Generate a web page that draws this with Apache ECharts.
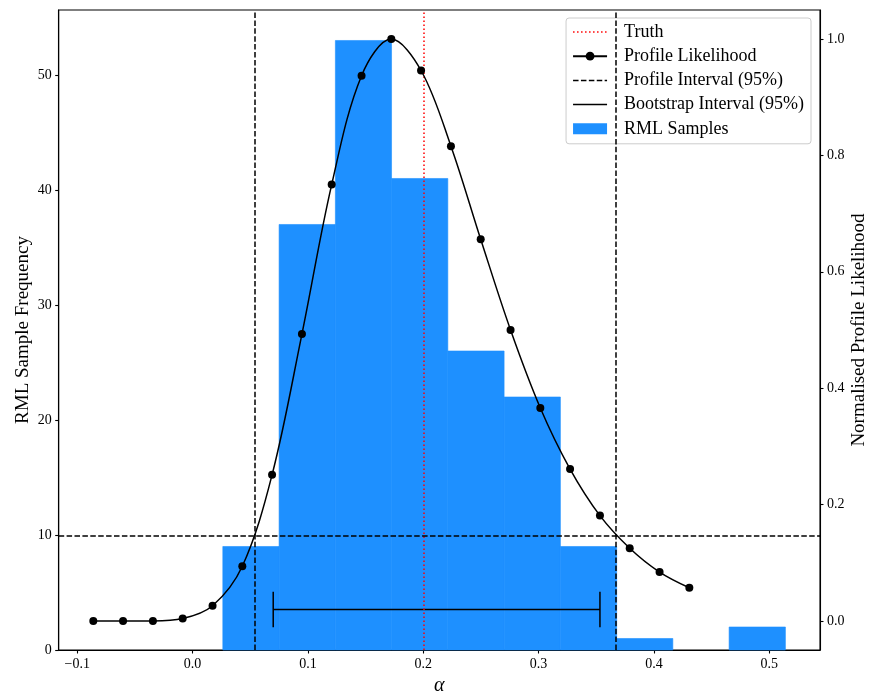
<!DOCTYPE html>
<html>
<head>
<meta charset="utf-8">
<script src="https://cdn.jsdelivr.net/npm/echarts@6/dist/echarts.min.js"></script>
<style>html,body{margin:0;padding:0;background:#fff}#c{width:870px;height:693px}</style>
</head>
<body>
<div id="c"></div>
<script>
// ---- data ----
const xTicks = [-0.1, 0.0, 0.1, 0.2, 0.3, 0.4, 0.5];
const xTickLabels = ['\u22120.1', '0.0', '0.1', '0.2', '0.3', '0.4', '0.5'];
const freqTicks = [0, 10, 20, 30, 40, 50];
const freqTickLabels = ['0', '10', '20', '30', '40', '50'];
const likTicks = [0.0, 0.2, 0.4, 0.6, 0.8, 1.0];
const likTickLabels = ['0.0', '0.2', '0.4', '0.6', '0.8', '1.0'];

const binEdges = [0.0262, 0.0750, 0.1238, 0.1725, 0.2213, 0.2701, 0.3189, 0.3677, 0.4164, 0.4652, 0.5140];
const binCounts = [9, 37, 53, 41, 26, 22, 9, 1, 0, 2];

const alphaGrid = [-0.0861, -0.0603, -0.0344, -0.0086, 0.0173, 0.0431, 0.0689, 0.0948, 0.1206, 0.1465,
  0.1723, 0.1981, 0.2240, 0.2498, 0.2757, 0.3015, 0.3273, 0.3532, 0.3790, 0.4049, 0.4307];
const profileLik = [0.000, 0.000, 0.000, 0.004, 0.026, 0.094, 0.251, 0.493, 0.750, 0.937,
  1.000, 0.946, 0.816, 0.656, 0.500, 0.366, 0.261, 0.181, 0.125, 0.084, 0.057];

const truthAlpha = 0.2;
const profileInterval = [0.0535, 0.3671];
const profileThreshold = 0.1465;
const bootstrapInterval = [0.0699, 0.3532];
const bootstrapLevel = 3.52;
const bootstrapCapHalf = 1.55;

// ---- build ----
const FONT = 'Liberation Serif';
const histData = binCounts.map((c, i) => [binEdges[i], binEdges[i + 1], c]);
const likData = alphaGrid.map((a, i) => [a, profileLik[i]]);
const dashType = [5.5, 2.4];

// legend icon paths (34 x 11 box, corner specks fix the bounding box)
const BOX = 'M0,0h0.01v0.01h-0.01z M33.99,10.99h0.01v0.01h-0.01z ';
function segPath(seg, gap, h) {
  let p = BOX;
  const y0 = 5.5 - h / 2;
  for (let x = 0; x < 34; x += seg + gap) {
    const w = Math.min(seg, 34 - x);
    p += 'M' + x.toFixed(2) + ',' + y0 + 'h' + w.toFixed(2) + 'v' + h + 'h-' + w.toFixed(2) + 'z ';
  }
  return 'path://' + p;
}
const iconDotted = segPath(1.5, 2.5, 1.5);
const iconDashed = segPath(5.5, 2.4, 1.5);
const iconSolid = segPath(34, 0, 1.5);

const chart = echarts.init(document.getElementById('c'), null, {renderer: 'canvas'});
chart.setOption({
  animation: false,
  backgroundColor: '#fff',
  textStyle: {fontFamily: FONT},
  grid: {left: 58.7, right: 50, top: 10, bottom: 43, outerBoundsMode: 'none', containLabel: false,
    show: true, borderColor: '#000', borderWidth: 1.1, backgroundColor: 'transparent'},
  xAxis: {
    type: 'value', min: -0.1161, max: 0.544,
    name: '\u03b1', nameLocation: 'middle', nameGap: 25,
    nameTextStyle: {fontFamily: FONT, fontStyle: 'italic', fontSize: 20, color: '#000'},
    axisLine: {show: true, onZero: false, lineStyle: {color: '#000', width: 1.1}},
    axisTick: {show: true, length: 3.5, customValues: xTicks, lineStyle: {color: '#000', width: 1.1}},
    axisLabel: {customValues: xTicks, margin: 7, fontSize: 14, color: '#000', fontFamily: FONT,
      formatter: v => { const i = xTicks.findIndex(t => Math.abs(t - v) < 1e-9); return i >= 0 ? xTickLabels[i] : ''; }},
    splitLine: {show: false}
  },
  yAxis: [{
    type: 'value', min: 0, max: 55.65, position: 'left',
    name: 'RML Sample Frequency', nameLocation: 'middle', nameGap: 26, nameRotate: 90, nameMoveOverlap: false,
    nameTextStyle: {fontFamily: FONT, fontSize: 19, color: '#000'},
    axisLine: {show: true, onZero: false, lineStyle: {color: '#000', width: 1.1}},
    axisTick: {show: true, length: 3.5, customValues: freqTicks, lineStyle: {color: '#000', width: 1.1}},
    axisLabel: {customValues: freqTicks, margin: 7, fontSize: 14, color: '#000', fontFamily: FONT,
      formatter: v => { const i = freqTicks.findIndex(t => Math.abs(t - v) < 1e-9); return i >= 0 ? freqTickLabels[i] : ''; }},
    splitLine: {show: false}
  }, {
    type: 'value', min: -0.05, max: 1.05, position: 'right',
    name: 'Normalised Profile Likelihood', nameLocation: 'middle', nameGap: 30, nameRotate: 90, nameMoveOverlap: false,
    nameTextStyle: {fontFamily: FONT, fontSize: 19, color: '#000'},
    axisLine: {show: true, onZero: false, lineStyle: {color: '#000', width: 1.1}},
    axisTick: {show: true, length: 3.5, customValues: likTicks, lineStyle: {color: '#000', width: 1.1}},
    axisLabel: {customValues: likTicks, margin: 7, fontSize: 14, color: '#000', fontFamily: FONT,
      formatter: v => { const i = likTicks.findIndex(t => Math.abs(t - v) < 1e-9); return i >= 0 ? likTickLabels[i] : ''; }},
    splitLine: {show: false}
  }],
  legend: {
    orient: 'vertical', right: 59, top: 18,
    backgroundColor: 'rgba(255,255,255,0.8)', borderColor: '#cccccc', borderWidth: 1, borderRadius: 3,
    padding: [5, 7, 6, 6], itemGap: 6.2, itemWidth: 34, itemHeight: 11,
    textStyle: {fontFamily: FONT, fontSize: 18, color: '#000', lineHeight: 16, padding: [0, 0, 0, 12]},
    data: [
      {name: 'Truth', icon: iconDotted, itemStyle: {color: '#ff0000'}},
      {name: 'Profile Likelihood'},
      {name: 'Profile Interval (95%)', icon: iconDashed},
      {name: 'Bootstrap Interval (95%)', icon: iconSolid},
      {name: 'RML Samples', icon: 'rect'}
    ]
  },
  series: [
    {
      name: 'RML Samples', type: 'custom', xAxisIndex: 0, yAxisIndex: 0, z: 1,
      itemStyle: {color: '#1E90FF'},
      encode: {x: [0, 1], y: 2},
      data: histData,
      renderItem: (params, api) => {
        if (!(api.value(2) > 0)) return null;
        const p0 = api.coord([api.value(0), 0]);
        const p1 = api.coord([api.value(1), api.value(2)]);
        return {type: 'rect', shape: {x: p0[0], y: p1[1], width: p1[0] - p0[0], height: p0[1] - p1[1]},
          style: {fill: '#1E90FF', stroke: '#1E90FF', lineWidth: 0.6}};
      }
    },
    {
      name: 'Truth', type: 'line', yAxisIndex: 1, z: 3, data: [], symbol: 'none',
      lineStyle: {color: '#ff0000', width: 1.5, type: [1.5, 2.5]},
      itemStyle: {color: '#ff0000'},
      markLine: {silent: true, symbol: 'none', label: {show: false}, precision: 6,
        lineStyle: {color: '#ff0000', width: 1.5, type: [1.5, 2.5]},
        data: [{xAxis: truthAlpha}]}
    },
    {
      name: 'Profile Interval (95%)', type: 'line', yAxisIndex: 1, z: 3, data: [], symbol: 'none',
      lineStyle: {color: '#000', width: 1.5, type: dashType},
      itemStyle: {color: '#000'},
      markLine: {silent: true, symbol: 'none', label: {show: false}, precision: 6,
        lineStyle: {color: '#000', width: 1.5, type: dashType},
        data: [{xAxis: profileInterval[0]}, {xAxis: profileInterval[1]}, {yAxis: profileThreshold}]}
    },
    {
      name: 'Bootstrap Interval (95%)', type: 'line', yAxisIndex: 0, z: 4, symbol: 'none',
      lineStyle: {color: '#000', width: 1.5}, itemStyle: {color: '#000'},
      data: [[bootstrapInterval[0], bootstrapLevel], [bootstrapInterval[1], bootstrapLevel]]
    },
    {
      name: 'Bootstrap Interval (95%)', type: 'line', yAxisIndex: 0, z: 4, symbol: 'none',
      lineStyle: {color: '#000', width: 1.5}, itemStyle: {color: '#000'},
      data: [[bootstrapInterval[0], bootstrapLevel - bootstrapCapHalf], [bootstrapInterval[0], bootstrapLevel + bootstrapCapHalf]]
    },
    {
      name: 'Bootstrap Interval (95%)', type: 'line', yAxisIndex: 0, z: 4, symbol: 'none',
      lineStyle: {color: '#000', width: 1.5}, itemStyle: {color: '#000'},
      data: [[bootstrapInterval[1], bootstrapLevel - bootstrapCapHalf], [bootstrapInterval[1], bootstrapLevel + bootstrapCapHalf]]
    },
    {
      name: 'Profile Likelihood', type: 'line', yAxisIndex: 1, z: 5,
      smooth: 0.35, symbol: 'circle', symbolSize: 8, showSymbol: true,
      lineStyle: {color: '#000', width: 1.5}, itemStyle: {color: '#000'},
      data: likData
    }
  ]
});
</script>
</body>
</html>
